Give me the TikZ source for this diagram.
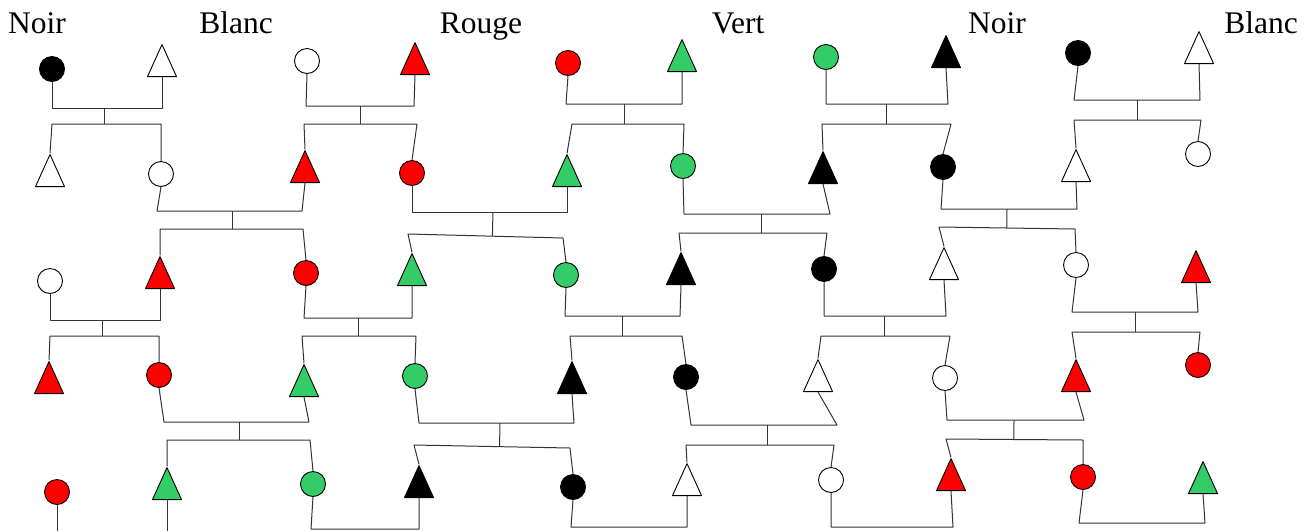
\documentclass[tikz,border=0pt]{standalone}
\usepackage{fontspec}
\setmainfont{Liberation Serif}
\usetikzlibrary{shapes.geometric,calc}
\definecolor{vert}{RGB}{51,204,102}
\tikzset{
  fem/.style={circle, draw, line width=0.9pt, minimum size=25pt, inner sep=0pt},
  masc/.style={isosceles triangle, isosceles triangle stretches, shape border rotate=90,
    minimum width=29pt, minimum height=32pt, inner sep=0pt, draw, line width=0.9pt, anchor=south},
  lien/.style={line width=1pt, black!80},
  nom/.style={anchor=base, font=\fontsize{31.5}{36}\selectfont}
}
\begin{document}
\begin{tikzpicture}[x=1pt, y=-1pt, line join=round]
\useasboundingbox (0,0) rectangle (1308,531);
% titres
\node[nom] (t1) at (37,33) {Noir};
\node[nom] (t2) at (236,33) {Blanc};
\node[nom] (t3) at (481,33) {Rouge};
\node[nom] (t4) at (738,33) {Vert};
\node[nom] (t5) at (997,33) {Noir};
\node[nom] (t6) at (1261,33) {Blanc};
% rang 1
\node[fem, fill=black] (n11) at (52,69) {};
\node[masc, fill=white] (n12) at (162,77) {};
\node[fem, fill=white] (n13) at (307,61) {};
\node[masc, fill=red] (n14) at (415,75) {};
\node[fem, fill=red] (n15) at (568,63) {};
\node[masc, fill=vert] (n16) at (682,72) {};
\node[fem, fill=vert] (n17) at (826,57) {};
\node[masc, fill=black] (n18) at (946,68) {};
\node[fem, fill=black] (n19) at (1078,53) {};
\node[masc, fill=white] (n1a) at (1199,64) {};
% rang 2
\node[masc, fill=white] (n21) at (50,187) {};
\node[fem, fill=white] (n22) at (161,174) {};
\node[masc, fill=red] (n23) at (305,183) {};
\node[fem, fill=red] (n24) at (412,173) {};
\node[masc, fill=vert] (n25) at (567,187) {};
\node[fem, fill=vert] (n26) at (683,166) {};
\node[masc, fill=black] (n27) at (823,184) {};
\node[fem, fill=black] (n28) at (943,167) {};
\node[masc, fill=white] (n29) at (1076,182) {};
\node[fem, fill=white] (n2a) at (1198,154) {};
% rang 3
\node[fem, fill=white] (n31) at (50,281) {};
\node[masc, fill=red] (n32) at (160,289) {};
\node[fem, fill=red] (n33) at (306,273) {};
\node[masc, fill=vert] (n34) at (412,286) {};
\node[fem, fill=vert] (n35) at (566,275) {};
\node[masc, fill=black] (n36) at (681,285) {};
\node[fem, fill=black] (n37) at (824,269) {};
\node[masc, fill=white] (n38) at (944,280) {};
\node[fem, fill=white] (n39) at (1076,265) {};
\node[masc, fill=red] (n3a) at (1196,283) {};
% rang 4
\node[masc, fill=red] (n41) at (49,394) {};
\node[fem, fill=red] (n42) at (159,375) {};
\node[masc, fill=vert] (n43) at (304,397) {};
\node[fem, fill=vert] (n44) at (415,376) {};
\node[masc, fill=black] (n45) at (572,394) {};
\node[fem, fill=black] (n46) at (686,377) {};
\node[masc, fill=white] (n47) at (818,392) {};
\node[fem, fill=white] (n48) at (945,378) {};
\node[masc, fill=red] (n49) at (1076,392) {};
\node[fem, fill=red] (n4a) at (1198,365) {};
% rang 5
\node[fem, fill=red] (n51) at (57,492) {};
\node[masc, fill=vert] (n52) at (167,500) {};
\node[fem, fill=vert] (n53) at (313,484) {};
\node[masc, fill=black] (n54) at (419,498) {};
\node[fem, fill=black] (n55) at (573,487) {};
\node[masc, fill=white] (n56) at (687,496) {};
\node[fem, fill=white] (n57) at (831,480) {};
\node[masc, fill=red] (n58) at (951,491) {};
\node[fem, fill=red] (n59) at (1083,477) {};
\node[masc, fill=vert] (n5a) at (1203,494) {};
% couples avec enfants
\foreach \pa/\pb/\ym/\xa/\xb/\xd/\ya/\yb/\sa/\sb/\ka/\kb in {
  n11/n12/108/52/162/104/124/124/52/161/n21/n22,
  n13/n14/106/306/414/360/124/124/304/417/n23/n24,
  n15/n16/104/566/682/624/124/124/572/684/n25/n26,
  n17/n18/104/826/948/886/124/124/822/951/n27/n28,
  n19/n1a/100/1074/1200/1137/120/120/1074/1201/n29/n2a,
  n22/n23/211/157/302/232/229/229/160/303/n32/n33,
  n24/n25/212/412/567/493/234/238/408/563/n34/n35,
  n26/n27/214/684/830/761/233/233/679/827/n36/n37,
  n28/n29/209/941/1077/1007/227/229/939/1075/n38/n39,
  n31/n32/320/50/160/102/336/336/50/159/n41/n42,
  n33/n34/318/304/412/358/336/336/302/416/n43/n44,
  n35/n36/316/565/680/622/336/336/570/682/n45/n46,
  n37/n38/316/824/946/884/336/336/821/950/n47/n48,
  n39/n3a/312/1072/1198/1135/332/332/1072/1200/n49/n4a,
  n42/n43/422/164/309/239/440/440/167/310/n52/n53,
  n44/n45/423/419/574/500/445/448/414/570/n54/n55,
  n46/n47/425/691/837/767/445/445/686/834/n56/n57,
  n48/n49/420/947/1084/1014/439/440/946/1083/n58/n59}{
  \draw[lien] (\pa.south) -- (\xa,\ym) -- (\xb,\ym) -- (\pb.south);
  \draw[lien] (\xd,\ym) -- ($(\sa,\ya)!(\xd,\ym)!(\sb,\yb)$);
  \draw[lien] (\ka.north) -- (\sa,\ya) -- (\sb,\yb) -- (\kb.north);
}
% couples du bas
\foreach \pa/\pb/\ym/\xa/\xb in {n53/n54/529/311/419, n55/n56/527/571/687,
  n57/n58/527/831/953, n59/n5a/523/1079/1205}
  \draw[lien] (\pa.south) -- (\xa,\ym) -- (\xb,\ym) -- (\pb.south);
\coordinate (e1) at (57,531);
\coordinate (e2) at (167,531);
\draw[lien] (n51.south) -- (e1);
\draw[lien] (n52.south) -- (e2);
\end{tikzpicture}
\end{document}
